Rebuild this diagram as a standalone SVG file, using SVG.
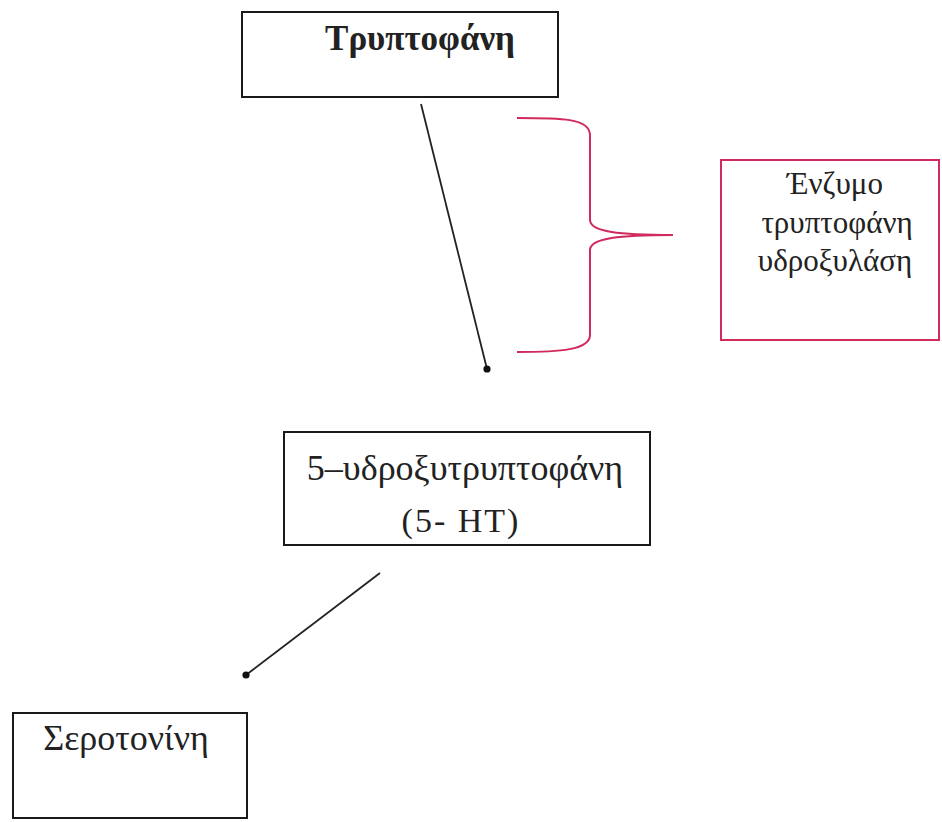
<svg xmlns="http://www.w3.org/2000/svg" width="942" height="822" viewBox="0 0 942 822">
<style>
.box{fill:#fff;stroke:#1a1a1a;stroke-width:2}
.rbox{fill:#fff;stroke:#d12a5c;stroke-width:2}
.t{font-family:"Liberation Serif","DejaVu Serif",serif;fill:#222;text-anchor:middle}
.conn{stroke:#222;stroke-width:1.8;fill:none}
.brace{stroke:#d12a5c;stroke-width:2;fill:none}
</style>
<defs>
<marker id="dot" viewBox="0 0 10 10" refX="5" refY="5" markerWidth="4" markerHeight="4" markerUnits="strokeWidth">
<circle cx="5" cy="5" r="5" fill="#111"/>
</marker>
</defs>
<rect width="942" height="822" fill="#fff"/>
<g id="tryptophan">
<rect class="box" x="242" y="12" width="316" height="85"/>
<text class="t" x="420" y="50" font-size="35" font-weight="bold">Τρυπτοφάνη</text>
</g>
<g id="enzyme">
<rect class="rbox" x="721" y="160" width="218" height="180"/>
<text class="t" x="835" y="194" font-size="31" fill="#333">Ένζυμο</text>
<text class="t" x="837" y="233" font-size="31" fill="#333">τρυπτοφάνη</text>
<text class="t" x="835" y="271" font-size="31" fill="#333">υδροξυλάση</text>
</g>
<g id="hydroxytryptophan">
<rect class="box" x="284" y="432" width="366" height="113"/>
<text class="t" x="465" y="480" font-size="36">5–υδροξυτρυπτοφάνη</text>
<text class="t" x="461" y="532" font-size="34" letter-spacing="2">(5- HT)</text>
</g>
<g id="serotonin">
<rect class="box" x="13" y="713" width="234" height="105"/>
<text class="t" x="126" y="750" font-size="36">Σεροτονίνη</text>
</g>
<g id="connectors">
<line class="conn" x1="421" y1="104" x2="487" y2="369" marker-end="url(#dot)"/>
<line class="conn" x1="380" y1="573" x2="246" y2="675" marker-end="url(#dot)"/>
<path class="brace" d="M517,118 C560,118 590,118 590,135 L590,220 C590,232 620,235 673,235 C620,235 590,238 590,250 L590,335 C590,350 560,352 517,352"/>
</g>
</svg>
